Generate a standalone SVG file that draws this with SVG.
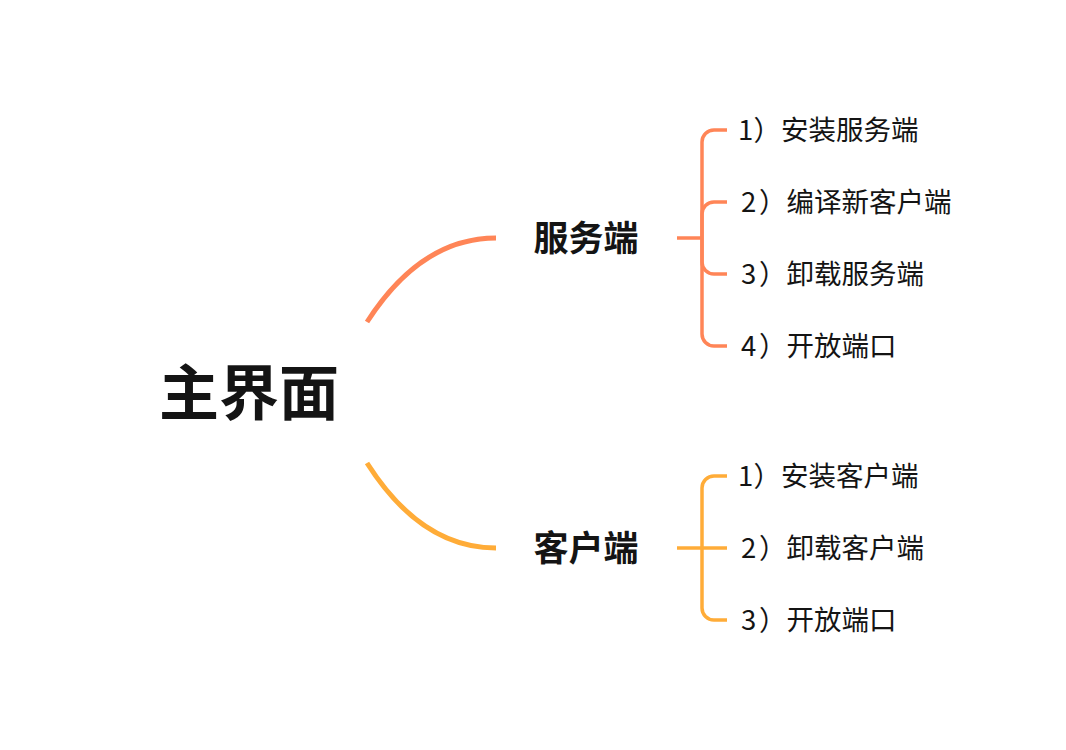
<svg xmlns="http://www.w3.org/2000/svg" width="1066" height="750" viewBox="0 0 1066 750">
<style>
.t{font-family:"Noto Sans CJK SC","Noto Sans",sans-serif;fill:#141414}
.root{font-size:60px;font-weight:700}
.main{font-size:35px;font-weight:700}
.sub{font-size:27.5px;font-weight:400}
.o{stroke:#FF8557;fill:none;stroke-linecap:butt}
.y{stroke:#FFAC38;fill:none;stroke-linecap:butt}
.arc{stroke-width:5}
.br{stroke-width:3.5}
</style>
<rect width="1066" height="750" fill="#fff"/>
<g id="connectors">
<path class="o arc" d="M367 322 Q421 238 496 238"/>
<path class="y arc" d="M367 463 Q421 548 496 548"/>
<path class="o br" d="M677 238 H702"/>
<path class="o br" d="M702 238 V142 A12 12 0 0 1 714 130 H727"/>
<path class="o br" d="M702 238 V214 A12 12 0 0 1 714 202 H727"/>
<path class="o br" d="M702 238 V262 A12 12 0 0 0 714 274 H727"/>
<path class="o br" d="M702 238 V334 A12 12 0 0 0 714 346 H727"/>
<path class="y br" d="M677 548 H727"/>
<path class="y br" d="M702 548 V488 A12 12 0 0 1 714 476 H727"/>
<path class="y br" d="M702 548 V608 A12 12 0 0 0 714 620 H727"/>
</g>
<g id="root"><text class="t root" x="249" y="415" text-anchor="middle">主界面</text></g>
<g id="server"><text class="t main" x="586" y="251" text-anchor="middle">服务端</text></g>
<g id="client"><text class="t main" x="586" y="561" text-anchor="middle">客户端</text></g>
<g id="s1"><text class="t sub" x="738" y="140">1<tspan x="753.5">）安装服务端</tspan></text></g>
<g id="s2"><text class="t sub" x="741" y="212">2<tspan x="759">）编译新客户端</tspan></text></g>
<g id="s3"><text class="t sub" x="741" y="284">3<tspan x="759">）卸载服务端</tspan></text></g>
<g id="s4"><text class="t sub" x="741" y="356">4<tspan x="759">）开放端口</tspan></text></g>
<g id="c1"><text class="t sub" x="738" y="486">1<tspan x="753.5">）安装客户端</tspan></text></g>
<g id="c2"><text class="t sub" x="741" y="558">2<tspan x="759">）卸载客户端</tspan></text></g>
<g id="c3"><text class="t sub" x="741" y="630">3<tspan x="759">）开放端口</tspan></text></g>
</svg>
